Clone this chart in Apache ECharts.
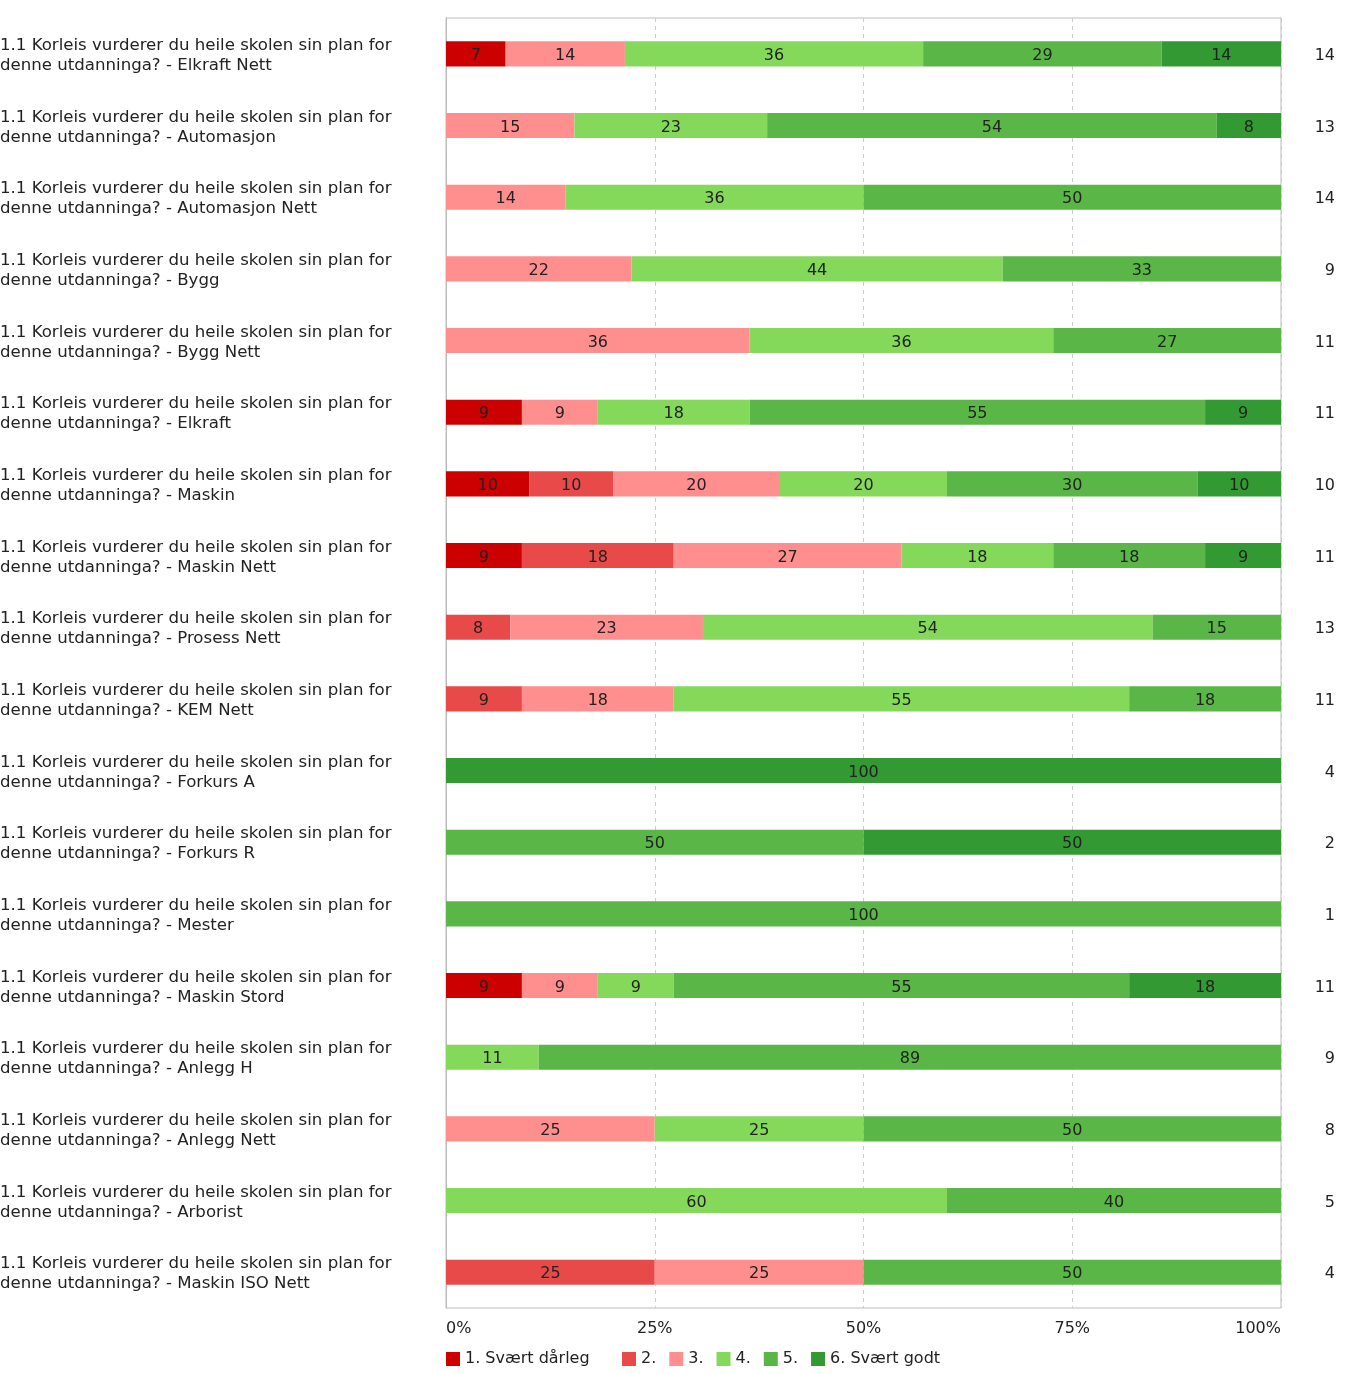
<!DOCTYPE html>
<html>
<head>
<meta charset="utf-8">
<script src="https://cdn.jsdelivr.net/npm/echarts@6/dist/echarts.min.js"></script>
<style>
html,body{margin:0;padding:0;background:#fff;}
#chart{width:1348px;height:1374px;}
</style>
</head>
<body>
<div id="chart"></div>
<script>
const categories = [
  "1.1 Korleis vurderer du heile skolen sin plan for\ndenne utdanninga? - Elkraft Nett",
  "1.1 Korleis vurderer du heile skolen sin plan for\ndenne utdanninga? - Automasjon",
  "1.1 Korleis vurderer du heile skolen sin plan for\ndenne utdanninga? - Automasjon Nett",
  "1.1 Korleis vurderer du heile skolen sin plan for\ndenne utdanninga? - Bygg",
  "1.1 Korleis vurderer du heile skolen sin plan for\ndenne utdanninga? - Bygg Nett",
  "1.1 Korleis vurderer du heile skolen sin plan for\ndenne utdanninga? - Elkraft",
  "1.1 Korleis vurderer du heile skolen sin plan for\ndenne utdanninga? - Maskin",
  "1.1 Korleis vurderer du heile skolen sin plan for\ndenne utdanninga? - Maskin Nett",
  "1.1 Korleis vurderer du heile skolen sin plan for\ndenne utdanninga? - Prosess Nett",
  "1.1 Korleis vurderer du heile skolen sin plan for\ndenne utdanninga? - KEM Nett",
  "1.1 Korleis vurderer du heile skolen sin plan for\ndenne utdanninga? - Forkurs A",
  "1.1 Korleis vurderer du heile skolen sin plan for\ndenne utdanninga? - Forkurs R",
  "1.1 Korleis vurderer du heile skolen sin plan for\ndenne utdanninga? - Mester",
  "1.1 Korleis vurderer du heile skolen sin plan for\ndenne utdanninga? - Maskin Stord",
  "1.1 Korleis vurderer du heile skolen sin plan for\ndenne utdanninga? - Anlegg H",
  "1.1 Korleis vurderer du heile skolen sin plan for\ndenne utdanninga? - Anlegg Nett",
  "1.1 Korleis vurderer du heile skolen sin plan for\ndenne utdanninga? - Arborist",
  "1.1 Korleis vurderer du heile skolen sin plan for\ndenne utdanninga? - Maskin ISO Nett"
];
// number of respondents per row (shown at right)
const nTotal = [14, 13, 14, 9, 11, 11, 10, 11, 13, 11, 4, 2, 1, 11, 9, 8, 5, 4];
// respondent counts per answer level (bar length = count / nTotal, label = rounded %)
const seriesNames = ["1. Svært dårleg", "2.", "3.", "4.", "5.", "6. Svært godt"];
const level1 = [1, 0, 0, 0, 0, 1, 1, 1, 0, 0, 0, 0, 0, 1, 0, 0, 0, 0];
const level2 = [0, 0, 0, 0, 0, 0, 1, 2, 1, 1, 0, 0, 0, 0, 0, 0, 0, 1];
const level3 = [2, 2, 2, 2, 4, 1, 2, 3, 3, 2, 0, 0, 0, 1, 0, 2, 0, 1];
const level4 = [5, 3, 5, 4, 4, 2, 2, 2, 7, 6, 0, 0, 0, 1, 1, 2, 3, 0];
const level5 = [4, 7, 7, 3, 3, 6, 3, 2, 2, 2, 0, 1, 1, 6, 8, 4, 2, 2];
const level6 = [2, 1, 0, 0, 0, 1, 1, 1, 0, 0, 4, 1, 0, 2, 0, 0, 0, 0];
const colors = ["#cc0000", "#e84a4a", "#ff8f8f", "#84d95b", "#5ab646", "#339933"];
const xTicks = ["0%", "25%", "50%", "75%", "100%"];

const levels = [level1, level2, level3, level4, level5, level6];
const FONT = "DejaVu Sans";
const FS = 16;

const series = levels.map((arr, i) => ({
  name: seriesNames[i],
  type: 'bar',
  stack: 'total',
  barWidth: '35%',
  itemStyle: { color: colors[i] },
  label: {
    show: true,
    position: 'inside',
    offset: [0, 2],
    color: '#222',
    fontFamily: FONT,
    fontSize: FS,
    formatter: p => p.value > 0 ? String(Math.round(p.value)) : ''
  },
  emphasis: { disabled: true },
  data: arr.map((c, j) => c > 0 ? c / nTotal[j] * 100 : null)
}));

const legendText = { fontFamily: FONT, fontSize: FS, color: '#222' };
const spacer = { s: { fontSize: 4, lineHeight: 4, height: 4 } };

const chart = echarts.init(document.getElementById('chart'));
chart.setOption({
  animation: false,
  color: colors,
  grid: {
    left: 446, right: 67, top: 18, bottom: 66,
    show: true, borderColor: '#bbbbbb', borderWidth: 1,
    containLabel: false,
    outerBoundsMode: 'none'
  },
  legend: [
    {
      left: 446, top: 1351, padding: 0,
      itemWidth: 14, itemHeight: 14, itemGap: 13,
      icon: 'rect', textStyle: legendText,
      data: [seriesNames[0]]
    },
    {
      left: 622, top: 1351, padding: 0,
      itemWidth: 14, itemHeight: 14, itemGap: 13,
      icon: 'rect', textStyle: legendText,
      data: seriesNames.slice(1)
    }
  ],
  xAxis: {
    type: 'value', min: 0, max: 100, interval: 25,
    axisLine: { show: false },
    axisTick: { show: false },
    splitLine: { show: true, lineStyle: { color: '#cccccc', type: [4, 4] } },
    axisLabel: {
      margin: 13,
      fontFamily: FONT, fontSize: FS, color: '#222',
      alignMinLabel: 'left', alignMaxLabel: 'right',
      formatter: v => xTicks[Math.round(v / 25)]
    }
  },
  yAxis: [
    {
      type: 'category', inverse: true, data: categories,
      axisLine: { show: true, lineStyle: { color: '#bbbbbb' } },
      axisTick: { show: false },
      axisLabel: {
        margin: 446, align: 'left',
        fontFamily: FONT, fontSize: 16.6, color: '#222', lineHeight: 20,
        formatter: v => '{s| }\n' + v.split('\n').map(t => '{t|' + t + '}').join('\n'),
        rich: Object.assign({ t: { fontFamily: FONT, fontSize: 16.6, color: '#222', lineHeight: 20 } }, spacer)
      }
    },
    {
      type: 'category', inverse: true, position: 'right',
      data: nTotal.map(String),
      axisLine: { show: false },
      axisTick: { show: false },
      axisLabel: {
        margin: 54, align: 'right',
        fontFamily: FONT, fontSize: FS, color: '#222',
        formatter: v => '{s| }\n{t|' + v + '}',
        rich: Object.assign({ t: { fontFamily: FONT, fontSize: FS, color: '#222', lineHeight: 20 } }, spacer)
      }
    }
  ],
  series: series
});
</script>
</body>
</html>
